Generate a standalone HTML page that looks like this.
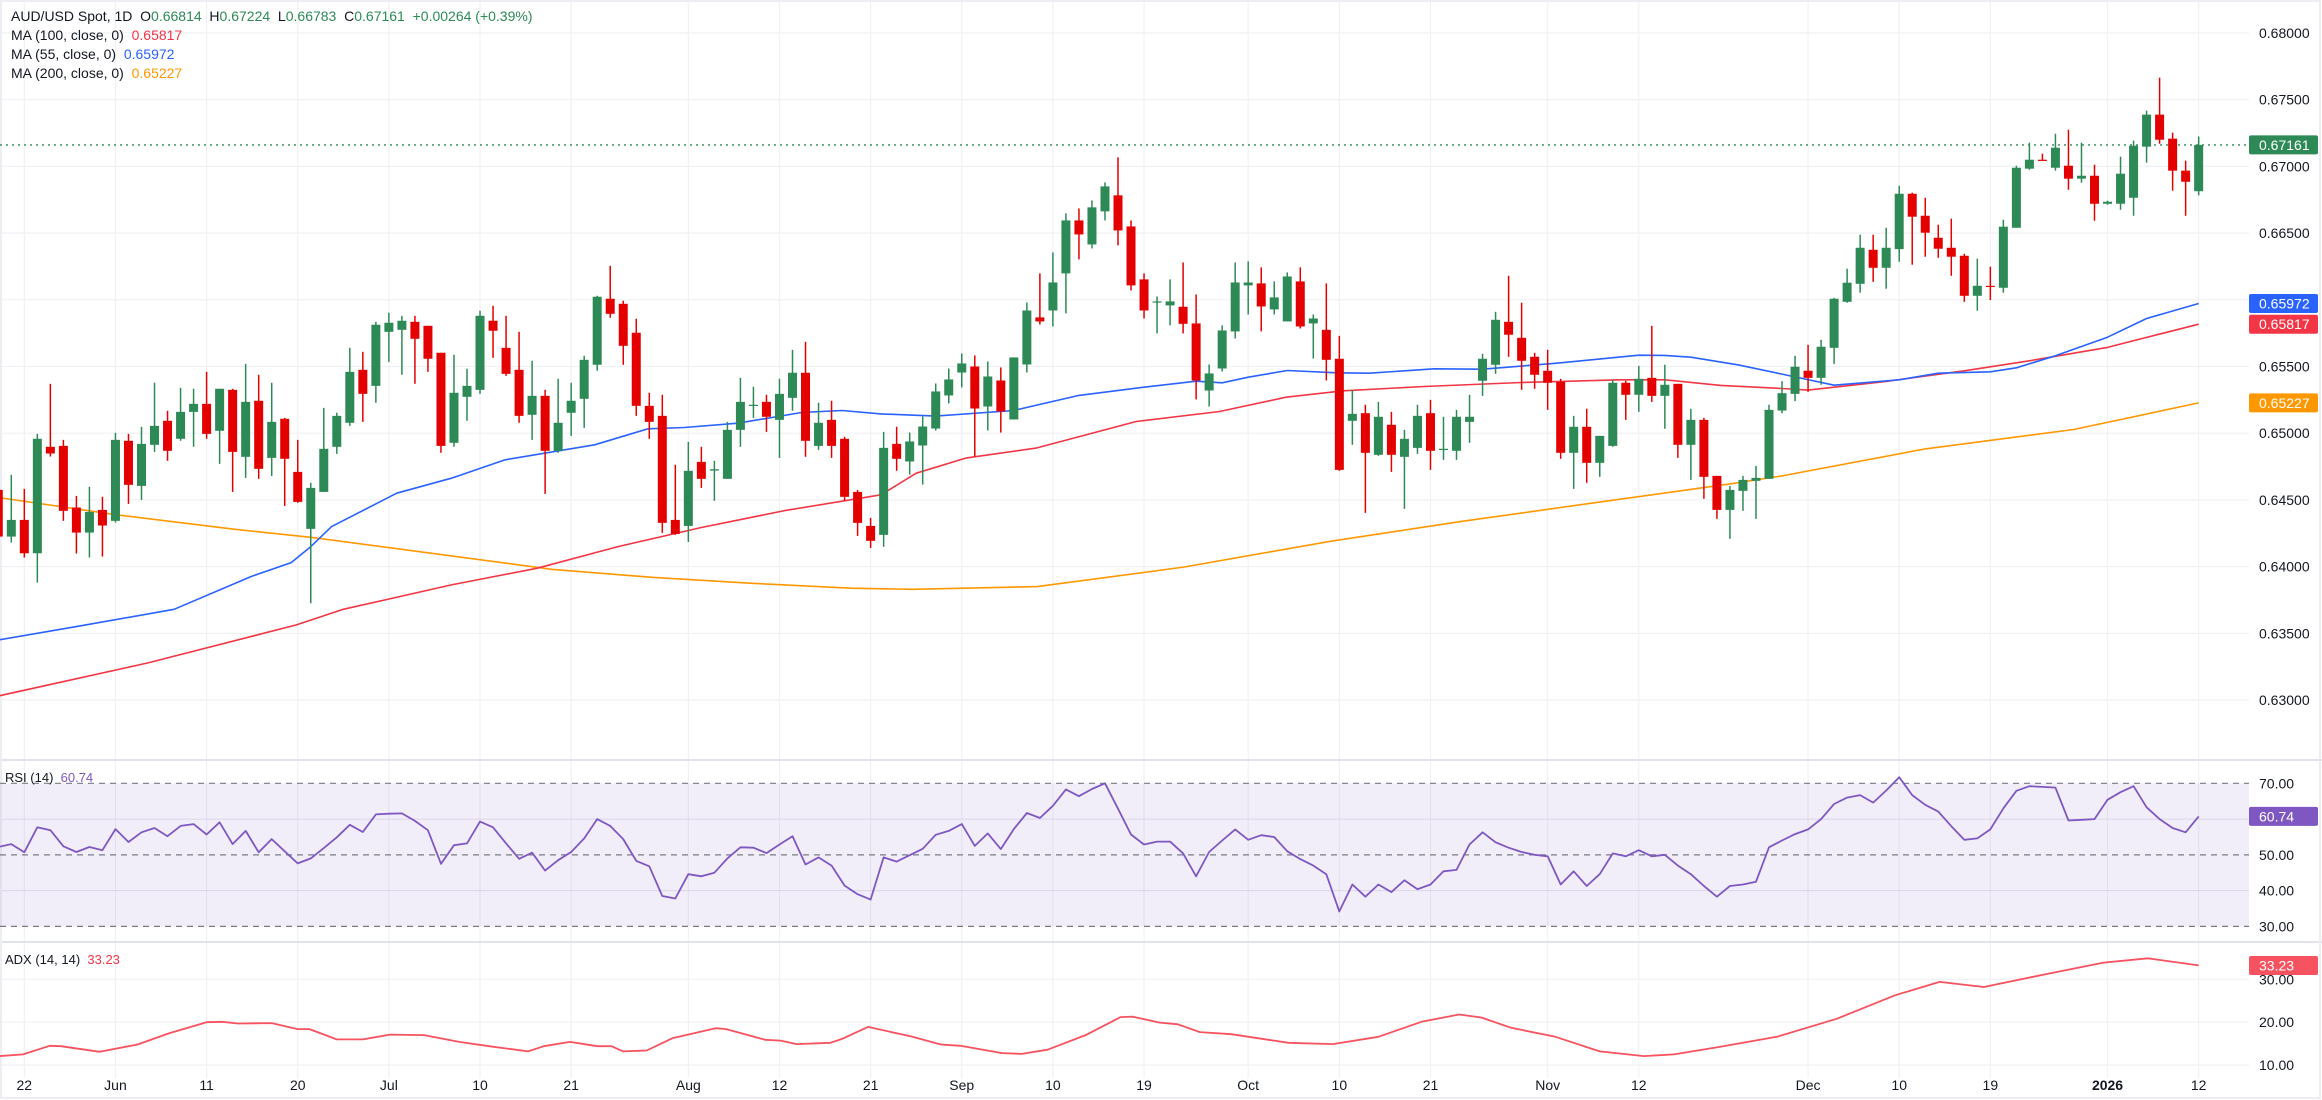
<!DOCTYPE html>
<html><head><meta charset="utf-8"><title>AUD/USD Spot 1D</title>
<style>
html,body{margin:0;padding:0;background:#fff;}
#wrap{position:relative;width:2322px;height:1100px;overflow:hidden;font-family:"Liberation Sans",Arial,sans-serif;}
svg{position:absolute;left:0;top:0;}
.lg{position:absolute;left:11px;font-size:14px;color:#131722;white-space:nowrap;}
</style></head>
<body>
<div id="wrap">
<svg id="chart" width="2322" height="1100"></svg>
<div class="lg" style="top:8px">AUD/USD Spot, 1D&nbsp;&nbsp;O<span style="color:#2d8a56">0.66814</span>&nbsp;&nbsp;H<span style="color:#2d8a56">0.67224</span>&nbsp;&nbsp;L<span style="color:#2d8a56">0.66783</span>&nbsp;&nbsp;C<span style="color:#2d8a56">0.67161</span>&nbsp;&nbsp;<span style="color:#2d8a56">+0.00264 (+0.39%)</span></div>
<div class="lg" style="top:27px">MA (100, close, 0)&nbsp;&nbsp;<span style="color:#f23645">0.65817</span></div>
<div class="lg" style="top:46px">MA (55, close, 0)&nbsp;&nbsp;<span style="color:#2962ff">0.65972</span></div>
<div class="lg" style="top:65px">MA (200, close, 0)&nbsp;&nbsp;<span style="color:#ff9800">0.65227</span></div>
<div class="lg" style="top:770px;left:5px;font-size:13px">RSI (14)&nbsp;&nbsp;<span style="color:#7e57c2">60.74</span></div>
<div class="lg" style="top:952px;left:5px;font-size:13px">ADX (14, 14)&nbsp;&nbsp;<span style="color:#f23645">33.23</span></div>
</div>
<script>
const opens=[0.64575,0.64225,0.64350,0.64100,0.64898,0.64905,0.64443,0.64255,0.64425,0.64343,0.64943,0.64605,0.64913,0.65093,0.64958,0.65160,0.65220,0.65018,0.65325,0.64823,0.65243,0.64815,0.65108,0.64710,0.64283,0.64560,0.64898,0.65078,0.65475,0.65355,0.65760,0.65775,0.65835,0.65805,0.65603,0.64928,0.65273,0.65325,0.65843,0.65640,0.65475,0.65138,0.65280,0.64868,0.65153,0.65258,0.65513,0.66008,0.65970,0.65753,0.65205,0.65130,0.64350,0.64305,0.64785,0.64720,0.64658,0.65025,0.65205,0.65235,0.65100,0.65265,0.65453,0.64905,0.65100,0.64958,0.64560,0.64305,0.64238,0.64920,0.64788,0.64908,0.65035,0.65283,0.65455,0.65500,0.65200,0.65395,0.65103,0.65515,0.65868,0.65920,0.66198,0.66595,0.66415,0.66663,0.66783,0.66550,0.66153,0.65980,0.65958,0.65948,0.65823,0.65320,0.65485,0.65763,0.66108,0.66123,0.65928,0.65838,0.66138,0.65823,0.65775,0.65558,0.65093,0.65150,0.64838,0.65063,0.64823,0.64890,0.65150,0.64875,0.64868,0.65085,0.65393,0.65513,0.65835,0.65715,0.65573,0.65468,0.65385,0.64853,0.65048,0.64778,0.64905,0.65378,0.65288,0.65415,0.65280,0.65370,0.64913,0.65100,0.64680,0.64425,0.64568,0.64643,0.64658,0.65170,0.65295,0.65468,0.65415,0.65640,0.65985,0.66120,0.66375,0.66240,0.66380,0.66795,0.66630,0.66465,0.66390,0.66330,0.66030,0.66105,0.66090,0.66540,0.66983,0.67050,0.66990,0.67005,0.66908,0.66930,0.66720,0.66720,0.66765,0.67148,0.67388,0.67208,0.66968,0.66814];
const highs=[0.64600,0.64688,0.64583,0.64995,0.65370,0.64950,0.64530,0.64598,0.64523,0.65003,0.64995,0.65048,0.65378,0.65168,0.65340,0.65333,0.65460,0.65333,0.65333,0.65520,0.65438,0.65378,0.65115,0.64950,0.64628,0.65190,0.65153,0.65640,0.65610,0.65835,0.65903,0.65880,0.65880,0.65805,0.65603,0.65588,0.65483,0.65918,0.65955,0.65880,0.65760,0.65543,0.65325,0.65408,0.65378,0.65580,0.66030,0.66255,0.65993,0.65858,0.65303,0.65288,0.64763,0.64935,0.64898,0.64793,0.65085,0.65415,0.65348,0.65288,0.65408,0.65625,0.65685,0.65228,0.65243,0.64973,0.64575,0.64365,0.65010,0.65048,0.65005,0.65125,0.65373,0.65485,0.65598,0.65583,0.65538,0.65493,0.65568,0.65980,0.66198,0.66355,0.66648,0.66685,0.66745,0.66880,0.67068,0.66595,0.66198,0.66025,0.66153,0.66280,0.66040,0.65515,0.65808,0.66280,0.66288,0.66243,0.66138,0.66205,0.66243,0.65890,0.66123,0.65730,0.65325,0.65213,0.65235,0.65160,0.65025,0.65213,0.65250,0.65123,0.65175,0.65288,0.65595,0.65910,0.66180,0.65978,0.65603,0.65625,0.65408,0.65130,0.65183,0.64980,0.65400,0.65393,0.65505,0.65805,0.65513,0.65370,0.65183,0.65115,0.64680,0.64605,0.64680,0.64755,0.65213,0.65390,0.65580,0.65663,0.65700,0.66015,0.66233,0.66488,0.66488,0.66540,0.66855,0.66803,0.66765,0.66563,0.66608,0.66345,0.66308,0.66248,0.66600,0.67005,0.67178,0.67095,0.67245,0.67275,0.67178,0.67013,0.66743,0.67073,0.67193,0.67418,0.67665,0.67253,0.67043,0.67224];
const lows=[0.64200,0.64180,0.64068,0.63880,0.64825,0.64343,0.64098,0.64068,0.64075,0.64330,0.64470,0.64500,0.64860,0.64793,0.64943,0.64898,0.64958,0.64770,0.64560,0.64665,0.64658,0.64680,0.64455,0.64478,0.63725,0.64560,0.64845,0.65055,0.65085,0.65228,0.65535,0.65438,0.65370,0.65460,0.64853,0.64898,0.65093,0.65295,0.65565,0.65430,0.65078,0.64950,0.64545,0.64853,0.64980,0.65040,0.65468,0.65865,0.65513,0.65130,0.64958,0.64253,0.64238,0.64185,0.64590,0.64493,0.64658,0.64898,0.65115,0.65010,0.64815,0.65168,0.64823,0.64875,0.64815,0.64493,0.64230,0.64140,0.64148,0.64718,0.64690,0.64615,0.65020,0.65223,0.65343,0.64825,0.65020,0.65005,0.65103,0.65455,0.65815,0.65800,0.65898,0.66303,0.66385,0.66595,0.66408,0.66070,0.65860,0.65748,0.65808,0.65748,0.65253,0.65200,0.65463,0.65710,0.65890,0.65763,0.65890,0.65838,0.65785,0.65560,0.65395,0.64718,0.64913,0.64403,0.64830,0.64710,0.64433,0.64845,0.64725,0.64800,0.64800,0.64928,0.65280,0.65445,0.65573,0.65325,0.65333,0.65175,0.64808,0.64583,0.64628,0.64673,0.64898,0.65100,0.65160,0.65235,0.65033,0.64815,0.64650,0.64508,0.64358,0.64208,0.64418,0.64358,0.64658,0.65150,0.65240,0.65310,0.65363,0.65520,0.65978,0.66053,0.66135,0.66083,0.66285,0.66263,0.66323,0.66315,0.66180,0.65985,0.65918,0.65998,0.66053,0.66540,0.66975,0.67045,0.66968,0.66825,0.66878,0.66593,0.66713,0.66675,0.66630,0.67028,0.67170,0.66818,0.66630,0.66783];
const closes=[0.64225,0.64350,0.64100,0.64958,0.64848,0.64418,0.64255,0.64410,0.64308,0.64950,0.64613,0.64920,0.65055,0.64868,0.65160,0.65220,0.64995,0.65333,0.64860,0.65235,0.64733,0.65085,0.64808,0.64485,0.64590,0.64883,0.65130,0.65460,0.65295,0.65813,0.65828,0.65843,0.65708,0.65558,0.64905,0.65303,0.65355,0.65880,0.65768,0.65445,0.65130,0.65280,0.64868,0.65078,0.65243,0.65550,0.66023,0.65895,0.65655,0.65205,0.65085,0.64328,0.64245,0.64718,0.64658,0.64730,0.65025,0.65235,0.65213,0.65123,0.65295,0.65453,0.64943,0.65078,0.64905,0.64523,0.64328,0.64193,0.64890,0.64808,0.64938,0.65050,0.65313,0.65403,0.65523,0.65185,0.65425,0.65163,0.65568,0.65920,0.65838,0.66130,0.66595,0.66490,0.66693,0.66850,0.66520,0.66108,0.65920,0.65988,0.65988,0.65820,0.65395,0.65448,0.65770,0.66130,0.66130,0.65950,0.66018,0.66175,0.65800,0.65860,0.65550,0.64725,0.65145,0.64853,0.65123,0.64838,0.64958,0.65130,0.64868,0.64883,0.65123,0.65123,0.65558,0.65850,0.65738,0.65543,0.65438,0.65378,0.64853,0.65048,0.64778,0.64980,0.65378,0.65288,0.65408,0.65280,0.65363,0.64913,0.65100,0.64673,0.64425,0.64575,0.64650,0.64665,0.65175,0.65300,0.65498,0.65415,0.65648,0.66008,0.66128,0.66390,0.66240,0.66390,0.66795,0.66623,0.66503,0.66383,0.66323,0.66030,0.66105,0.66098,0.66548,0.66990,0.67050,0.67045,0.67140,0.66908,0.66930,0.66720,0.66735,0.66945,0.67155,0.67388,0.67200,0.66968,0.66885,0.67161];
const firstBar=-1;
const ma55Bars=[-1,5,12.5,18.4,21.5,23,24.6,29.6,33.8,37.9,44.8,48.9,51.7,55.8,60.7,63.8,66.8,71,77,82,87,91,93,95,98,101.8,104.3,109.3,113,118.7,125,127,129,132.6,136,140,145,148,152,154,157,161,164,168];
const ma55Vals=[0.6345,0.6355,0.6368,0.63925,0.6403,0.6415,0.6430,0.6455,0.64663,0.6480,0.64913,0.65033,0.65043,0.65075,0.65155,0.6517,0.65145,0.65128,0.6517,0.65283,0.65345,0.6539,0.65378,0.6542,0.6547,0.65453,0.6545,0.65483,0.6548,0.65525,0.65585,0.65583,0.6557,0.65513,0.65443,0.6536,0.6540,0.6545,0.6546,0.6549,0.6558,0.6572,0.6586,0.65972];
const ma100Bars=[-1,10.5,21.9,25.5,33.8,40.4,46.6,53,59.4,66.8,69.5,73.3,78.7,86.4,92.8,97.9,102.3,108.5,116,123.6,127,131.3,136,138,144,150,155,158,161,164,168];
const ma100Vals=[0.6303,0.63278,0.63563,0.6368,0.63863,0.63988,0.6415,0.64293,0.6442,0.64538,0.6470,0.64813,0.64888,0.65088,0.65163,0.6527,0.65318,0.6535,0.6538,0.6540,0.6540,0.65358,0.65335,0.65323,0.65388,0.65468,0.65543,0.65593,0.65643,0.65718,0.65817];
const ma200Bars=[-1,8.1,17.1,23,33.8,41.5,49.2,56.9,64.5,69.2,78.8,90.1,101.3,111.5,121.7,132,136,147,158.4,168];
const ma200Vals=[0.64518,0.64388,0.6428,0.6422,0.6408,0.6398,0.6392,0.63875,0.63838,0.6383,0.6385,0.63997,0.6419,0.6434,0.6448,0.6462,0.6468,0.64882,0.65028,0.65227];
const rsiVals=[52.2,53.0,50.7,57.7,56.9,52.4,50.8,52.2,51.3,57.2,53.6,56.3,57.5,55.2,58.1,58.6,55.7,59.1,53.0,56.7,50.7,54.4,51.0,47.6,49.0,51.9,54.9,58.4,56.4,61.3,61.5,61.6,59.5,56.9,47.5,52.7,53.2,59.3,57.7,53.2,48.9,50.6,45.6,48.5,50.8,54.6,60.0,58.1,54.4,48.3,46.8,38.5,37.8,44.6,44.0,45.0,49.0,52.1,52.0,50.5,52.9,55.2,47.3,49.3,47.0,41.4,39.0,37.5,49.3,48.1,49.9,51.7,55.6,56.7,58.6,52.5,56.0,51.6,57.2,61.7,60.3,63.7,68.3,66.4,68.4,70.0,62.9,55.7,52.9,53.7,53.7,50.4,44.0,50.8,54,57.1,54.2,55.5,55,51,48.8,47,44.6,34.2,41.7,38.3,41.7,39.6,42.9,40.4,41.7,45.4,45.8,52.9,56.3,53.5,52,50.8,50,49.6,41.7,45.4,41.3,44.6,50.4,49.6,51.3,49.6,50,47,44.6,41.3,38.3,41.3,41.7,42.5,52.1,54,55.8,57.1,60,64.2,66,66.7,64.6,68,71.7,66.7,64,62.1,58,54.2,54.6,57.1,63,67.9,69.2,69,68.8,59.6,59.8,60,65.4,67.5,69.2,63.3,60,57.5,56.3,60.74];
const adxBars=[-0.9,0.9,2.95,3.8,6.8,9.7,12.1,15,16.2,17.4,20,22,22.9,25,27,29.1,31.7,34.4,36.7,39.7,40.9,42.9,45,46.1,47,48.8,50.8,54.1,54.9,57.9,59.1,60.3,62.9,63.8,65.8,69.1,71.4,72.9,76.1,77.6,79.6,82.6,85.2,86.1,88.2,89.6,91.3,93.7,98.1,101.5,105,108.3,111.2,112.9,115.2,118.6,122,125.4,127.7,131.1,135.6,140.2,144.7,148.1,151.5,156.1,160.7,164.1,168];
const adxVals=[12.1,12.5,14.5,14.4,13.1,14.8,17.4,20.0,20.1,19.7,19.8,18.4,18.4,16.0,16.0,17.1,17.0,15.4,14.4,13.2,14.4,15.4,14.4,14.4,13.2,13.4,16.3,18.6,18.4,15.9,15.7,14.9,15.2,16.1,18.9,16.7,14.8,14.5,12.8,12.6,13.6,17.1,21.2,21.3,19.9,19.5,17.7,17.2,15.2,14.9,16.6,20.1,21.8,21.1,18.7,16.6,13.2,12.1,12.5,14.2,16.6,20.8,26.3,29.4,28.2,31.1,33.9,34.9,33.23];
const tickBars=[1,8,15,22,29,36,43,52,59,66,73,80,87,95,102,109,118,125,138,145,152,161,168];
const tickLabels=["22","Jun","11","20","Jul","10","21","Aug","12","21","Sep","10","19","Oct","10","21","Nov","12","Dec","10","19","2026","12"];
const priceTicks=[0.68,0.675,0.67,0.665,0.66,0.655,0.65,0.645,0.64,0.635,0.63];
const rsiTicks=[70,50,40,30];
const adxTicks=[30,20,10];
const lastPrice=0.67161, lastMa55=0.65972, lastMa100=0.65817, lastMa200=0.65227, lastRsi=60.74, lastAdx=33.23;

const NS="http://www.w3.org/2000/svg";
const svg=document.getElementById('chart');
const PR=2249;
function xOf(i){return 11.3+13.02*i;}
function yP(v){return 33+(0.68-v)*13340;}
function yR(v){return 783.3+(70-v)*3.5775;}
function yA(v){return 979.3+(30-v)*4.29;}
function mk(tag,attrs,parent){const e=document.createElementNS(NS,tag);for(const k in attrs)e.setAttribute(k,attrs[k]);(parent||svg).appendChild(e);return e;}

const defs=mk('defs',{});
const cp1=mk('clipPath',{id:'cpP'},defs);mk('rect',{x:0,y:0,width:PR,height:760},cp1);
const cp2=mk('clipPath',{id:'cpR'},defs);mk('rect',{x:0,y:760,width:PR,height:182},cp2);
const cp3=mk('clipPath',{id:'cpA'},defs);mk('rect',{x:0,y:942,width:PR,height:134},cp3);

const grid=mk('g',{});


tickBars.forEach(b=>{const l=mk('line',{x1:xOf(b),x2:xOf(b),y1:0,y2:1078,stroke:'#f0f1f4','stroke-width':1.2},grid);

});
priceTicks.forEach(v=>{const l=mk('line',{x1:0,x2:PR,y1:yP(v),y2:yP(v),stroke:'#f0f1f4','stroke-width':1.2},grid);

});
[60,40].forEach(v=>{mk('line',{x1:0,x2:PR,y1:yR(v),y2:yR(v),stroke:'#e6e4f0','stroke-width':1},grid);});
adxTicks.forEach(v=>{mk('line',{x1:0,x2:PR,y1:yA(v),y2:yA(v),stroke:'#f0f1f4','stroke-width':1.2},grid);});

[760,942].forEach(y=>{const l=mk('line',{x1:0,x2:2322,y1:y,y2:y,stroke:'#e0e3eb','stroke-width':2});

});
mk('rect',{x:1,y:1,width:2319,height:1097,fill:'none',stroke:'#eceef3','stroke-width':2});

const band=mk('rect',{x:0,y:yR(70),width:PR,height:yR(30)-yR(70),fill:'#7e57c2','fill-opacity':0.1});


[70,50,30].forEach(v=>{const l=mk('line',{x1:0,x2:PR,y1:yR(v),y2:yR(v),stroke:'#787b86','stroke-width':1.2,'stroke-dasharray':'6,5'});

});

const lp=mk('line',{x1:0,x2:PR,y1:yP(lastPrice),y2:yP(lastPrice),stroke:'#2d8a56','stroke-width':1.3,'stroke-dasharray':'2,4'});



function poly(bars,vals,color,name,yf,clip,w){
  const pts=bars.map((b,i)=>xOf(b).toFixed(1)+','+yf(vals[i]).toFixed(1)).join(' ');
  const p=mk('polyline',{points:pts,fill:'none',stroke:color,'stroke-width':w,'stroke-linejoin':'round','clip-path':'url(#'+clip+')'});
  
  
}
poly(ma200Bars,ma200Vals,'#ff9800','ma200-line',yP,'cpP',1.6);
poly(ma100Bars,ma100Vals,'#f23645','ma100-line',yP,'cpP',1.6);
poly(ma55Bars,ma55Vals,'#2962ff','ma55-line',yP,'cpP',1.6);

const cg=mk('g',{'clip-path':'url(#cpP)'});


for(let k=0;k<opens.length;k++){
  const i=firstBar+k,x=xOf(i),o=opens[k],c=closes[k];
  const col=c>=o?'#2d8a56':'#e50000';
  const g=mk('g',{},cg);
  
  
  mk('line',{x1:x,x2:x,y1:yP(highs[k]),y2:yP(lows[k]),stroke:col,'stroke-width':1.5},g);
  const top=yP(Math.max(o,c)),bot=yP(Math.min(o,c));
  mk('rect',{x:x-4.5,y:top,width:9,height:Math.max(bot-top,1.2),fill:col},g);
}

const rsiBars=rsiVals.map((v,k)=>firstBar+k);
poly(rsiBars,rsiVals,'#7e57c2','rsi-line',yR,'cpR',1.8);
poly(adxBars,adxVals,'#f7525f','adx-line',yA,'cpA',1.8);

function txt(x,y,s,attrs,name){const t=mk('text',Object.assign({x:x,y:y,'font-family':'Liberation Sans, Arial, sans-serif','font-size':14,fill:'#131722'},attrs||{}));t.textContent=s;
  
  return t;}
priceTicks.forEach(v=>txt(2259,yP(v)+5,v.toFixed(5),{},'price-tick-label'));
rsiTicks.forEach(v=>txt(2259,yR(v)+5,v.toFixed(2),{},'rsi-tick-label'));
adxTicks.forEach(v=>txt(2259,yA(v)+5,v.toFixed(2),{},'adx-tick-label'));
tickBars.forEach((b,i)=>txt(xOf(b),1090,tickLabels[i],{'text-anchor':'middle','font-weight':tickLabels[i]==='2026'?'bold':'normal'},'date-tick-label'));

function box(y,val,color,name,digits){
  const g=mk('g',{});
  
  
  mk('rect',{x:PR,y:y-9.5,width:69,height:19,rx:2,fill:color},g);
  const t=mk('text',{x:2259,y:y+5,'font-family':'Liberation Sans, Arial, sans-serif','font-size':14,fill:'#fff'},g);
  t.textContent=val.toFixed(digits);
}
box(yP(lastPrice),lastPrice,'#2d8a56','last-price-box',5);
box(yP(lastMa55),lastMa55,'#2962ff','ma55-value-box',5);
box(yP(lastMa100),lastMa100,'#f23645','ma100-value-box',5);
box(yP(lastMa200),lastMa200,'#ff9800','ma200-value-box',5);
box(yR(lastRsi),lastRsi,'#7e57c2','rsi-value-box',2);
box(yA(lastAdx),lastAdx,'#f7525f','adx-value-box',2);
</script>
</body></html>
